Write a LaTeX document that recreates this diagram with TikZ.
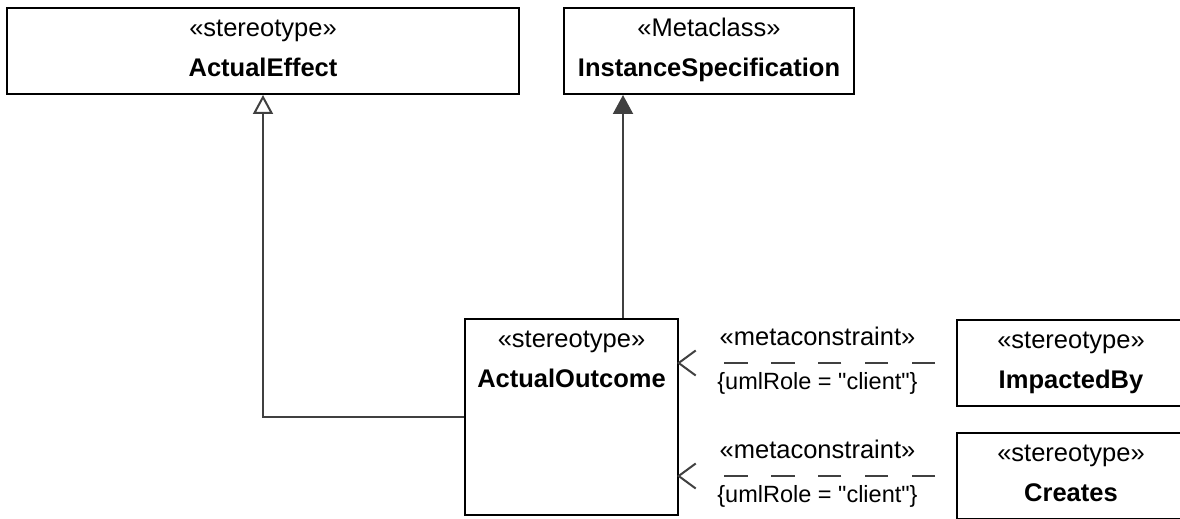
\documentclass[tikz,border=0pt]{standalone}
\usepackage{fontspec}
\setmainfont{Liberation Sans}
\newfontfamily\rolefont{Liberation Sans}
\usetikzlibrary{arrows.meta, positioning}
\definecolor{cLine}{RGB}{64,64,64}
\tikzset{
  umlbox/.style={rectangle, draw=black, line width=2pt, fill=white,
                 inner sep=0pt, anchor=north west},
  stereo/.style={font=\fontsize{25.5}{28}\selectfont, anchor=base, inner sep=0pt},
  cname/.style={font=\fontsize{25.5}{28}\selectfont\bfseries, anchor=base, inner sep=0pt},
  edgelbl/.style={font=\fontsize{25.5}{28}\selectfont, anchor=base, inner sep=0pt},
  rolelbl/.style={font=\rolefont\fontsize{23.5}{28}\selectfont, anchor=base, inner sep=0pt},
  genarrow/.style={draw=cLine, line width=2pt,
                   -{Triangle[open, length=19pt, width=20pt]}},
  extarrow/.style={draw=cLine, line width=2pt,
                   -{Triangle[length=19pt, width=20pt]}},
  deparrow/.style={draw=cLine, line width=2pt,
                   dash pattern=on 23.4pt off 23.4pt on 23.4pt off 23.4pt on 23.4pt off 23.4pt
                                on 23.4pt off 23.4pt on 23.4pt off 80pt,
                   dash phase=269.6pt, shorten >=-2pt,
                   -{Straight Barb[length=17pt, width=25pt]}},
}

\begin{document}
\begin{tikzpicture}[x=1pt, y=1pt]
\useasboundingbox (0,0) rectangle (1180,519);

%% ============================================================
%%  CLASS BOXES
%% ============================================================
\node[umlbox, minimum width=512pt, minimum height=86pt] (effect)   at (6,512)   {};
\node[umlbox, minimum width=290pt, minimum height=86pt] (instspec) at (563,512) {};
\node[umlbox, minimum width=213pt, minimum height=196pt] (outcome) at (464,201) {};
\node[umlbox, minimum width=228pt, minimum height=86pt] (impacted) at (956,200) {};
\node[umlbox, minimum width=228pt, minimum height=86pt] (creates)  at (956,87)  {};

%% ----- Box texts -----
\node[stereo, yshift=-30pt] (effectSt)   at (effect.north)   {«stereotype»};
\node[cname,  yshift=-70pt] (effectNm)   at (effect.north)   {ActualEffect};
\node[stereo, yshift=-30pt] (instspecSt) at (instspec.north) {«Metaclass»};
\node[cname,  yshift=-70pt] (instspecNm) at (instspec.north) {InstanceSpecification};
\node[stereo, yshift=-30pt] (outcomeSt)  at (outcome.north)  {«stereotype»};
\node[cname,  yshift=-70pt] (outcomeNm)  at (outcome.north)  {ActualOutcome};
\node[stereo, yshift=-30pt] (impactedSt) at (impacted.north) {«stereotype»};
\node[cname,  yshift=-70pt] (impactedNm) at (impacted.north) {ImpactedBy};
\node[stereo, yshift=-30pt] (createsSt)  at (creates.north)  {«stereotype»};
\node[cname,  yshift=-70pt] (createsNm)  at (creates.north)  {Creates};

%% ============================================================
%%  GENERALIZATION + EXTENSION
%% ============================================================
\draw[genarrow] (outcome.west) -| (effect.south);
\draw[extarrow] ([xshift=51.5pt]outcome.north) -- ([xshift=51.5pt]outcome.north |- instspec.south);

%% ============================================================
%%  METACONSTRAINTS
%% ============================================================
\draw[deparrow] (impacted.west) -- (impacted.west -| outcome.east)
  node[midway, edgelbl, yshift=17pt] (mcA) {«metaconstraint»}
  node[midway, rolelbl, yshift=-27pt] (roleA) {\{umlRole = "client"\}};
\draw[deparrow] (creates.west) -- (creates.west -| outcome.east)
  node[midway, edgelbl, yshift=17pt] (mcB) {«metaconstraint»}
  node[midway, rolelbl, yshift=-27pt] (roleB) {\{umlRole = "client"\}};

\end{tikzpicture}
\end{document}
